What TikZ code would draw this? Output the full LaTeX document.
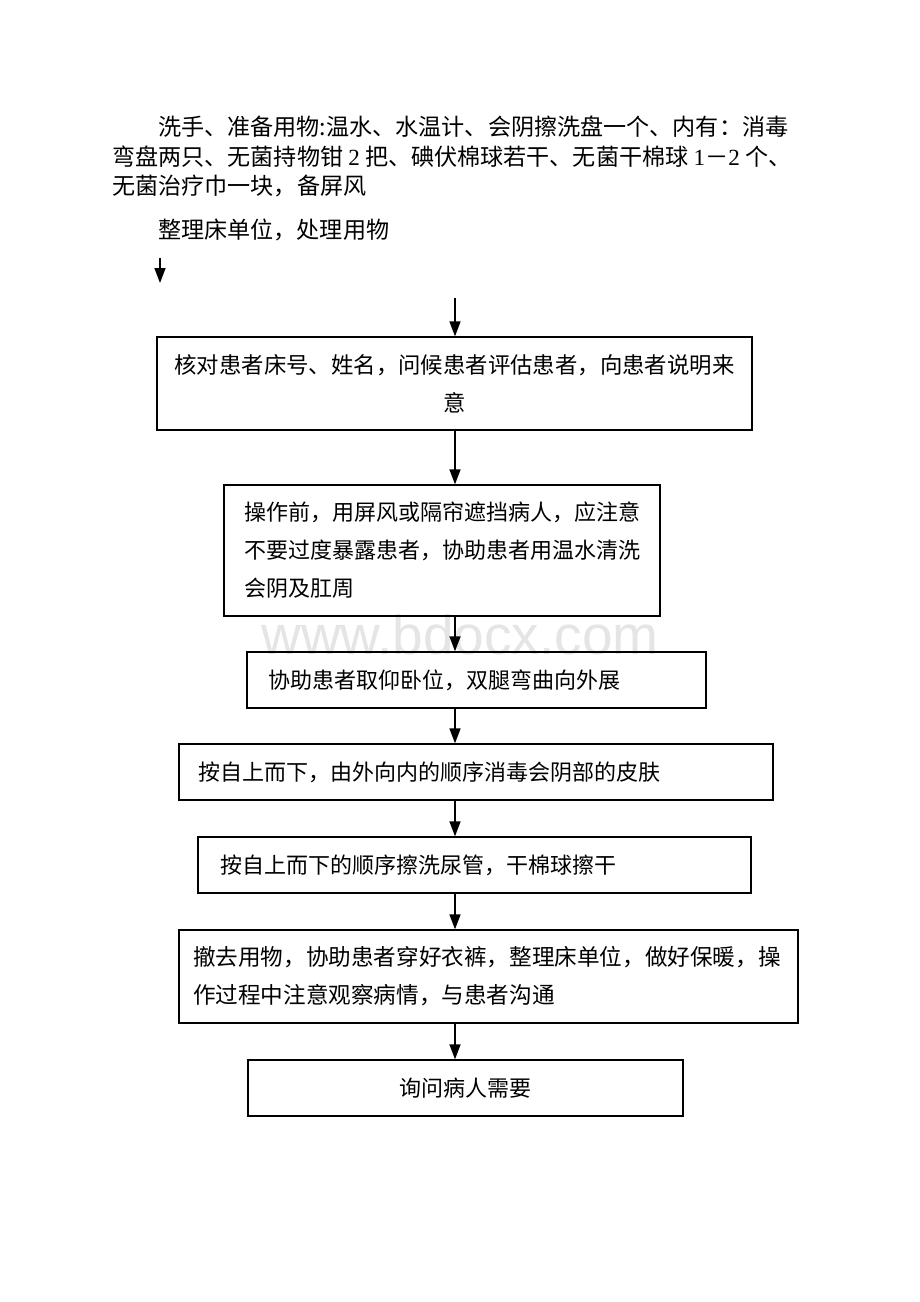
\documentclass[tikz,border=0pt]{standalone}
\usepackage{fontspec}
\setmainfont{Liberation Serif}
\newfontfamily\cjk{Noto Sans CJK SC}
\newfontfamily\wmfont{Liberation Sans}
\usetikzlibrary{arrows.meta}
\begin{document}
\begin{tikzpicture}[x=1pt,y=-1pt,
  box/.style={draw=black,line width=1.3pt,inner ysep=0pt,font=\cjk\fontsize{22}{38}\selectfont,minimum height=56pt},
  arr/.style={line width=1.4pt,-{Triangle[length=15pt,width=11pt]}},
  top/.style={anchor=west,inner sep=0pt,font=\cjk\fontsize{23.1}{30}\selectfont}]
\path[use as bounding box, fill=white] (0,0) rectangle (920,1302);
\node[text=black!10, inner sep=0pt, font=\wmfont\fontsize{55}{60}\selectfont] (wm) at (460,635) {www.bdocx.com};

\node[top] (t1) at (158,127) {洗手、准备用物:温水、水温计、会阴擦洗盘一个、内有：消毒};
\node[top] (t2) at (112,157) {弯盘两只、无菌持物钳 {\rmfamily 2} 把、碘伏棉球若干、无菌干棉球 {\rmfamily 1}－{\rmfamily 2} 个、};
\node[top] (t3) at (112,186) {无菌治疗巾一块，备屏风};
\node[top] (t4) at (158,230) {整理床单位，处理用物};

\coordinate (spine) at (455,0);
\coordinate (s0) at (160,258);
\coordinate (s1) at (160,283);
\coordinate (a0) at (455,298);

\node[box, align=center, inner xsep=10pt, text width=575pt, minimum height=93pt] (b1) at (454.5,383.5)
  {\fontsize{22.4}{38}\selectfont 核对患者床号、姓名，问候患者评估患者，向患者说明来\\意};
\node[box, align=left, inner xsep=20pt, text width=396pt, minimum height=131pt] (b2) at (442,550.5)
  {操作前，用屏风或隔帘遮挡病人，应注意\\不要过度暴露患者，协助患者用温水清洗\\会阴及肛周};
\node[box, align=left, inner xsep=21pt, text width=417pt] (b3) at (476.5,680)
  {协助患者取仰卧位，双腿弯曲向外展};
\node[box, align=left, inner xsep=19pt, text width=556pt] (b4) at (476,772)
  {按自上而下，由外向内的顺序消毒会阴部的皮肤};
\node[box, align=left, inner xsep=22pt, text width=509pt] (b5) at (474.5,865)
  {按自上而下的顺序擦洗尿管，干棉球擦干};
\node[box, align=left, inner xsep=14pt, text width=591pt, minimum height=93pt] (b6) at (488.5,976.5)
  {\fontsize{22.6}{38}\selectfont 撤去用物，协助患者穿好衣裤，整理床单位，做好保暖，操\\作过程中注意观察病情，与患者沟通};
\node[box, align=center, inner xsep=10pt, text width=415pt] (b7) at (465.5,1088)
  {询问病人需要};

\draw[arr] (s0) -- (s1);
\draw[arr] (a0) -- (b1.north -| a0);
\draw[arr] (b1.south -| spine) -- (b2.north -| spine);
\draw[arr] (b2.south -| spine) -- (b3.north -| spine);
\draw[arr] (b3.south -| spine) -- (b4.north -| spine);
\draw[arr] (b4.south -| spine) -- (b5.north -| spine);
\draw[arr] (b5.south -| spine) -- (b6.north -| spine);
\draw[arr] (b6.south -| spine) -- (b7.north -| spine);
\end{tikzpicture}
\end{document}
